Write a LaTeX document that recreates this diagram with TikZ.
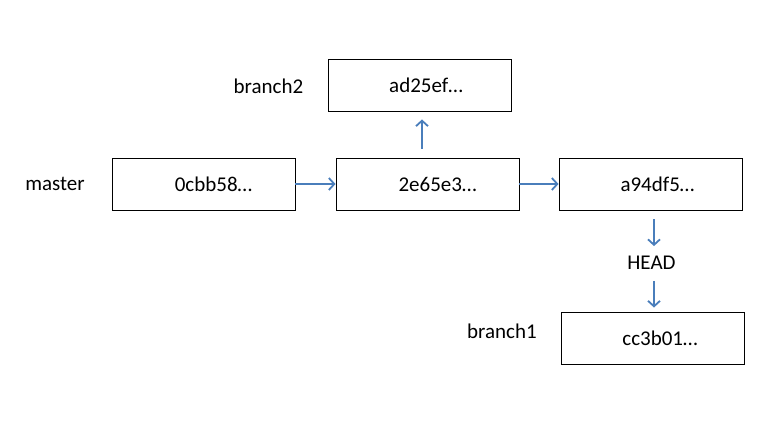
\documentclass[tikz,border=0pt]{standalone}
\usepackage{fontspec}
\setmainfont{Carlito}
\usetikzlibrary{arrows.meta}
\definecolor{arrblue}{HTML}{4A7EBB}
\begin{document}
\begin{tikzpicture}[x=1pt,y=-1pt,
  commit/.style={draw=black, line width=0.9pt, minimum width=183pt, minimum height=52pt, inner sep=0pt, font=\fontsize{21}{25}\selectfont},
  lbl/.style={inner sep=0pt, font=\fontsize{21}{25}\selectfont},
  arr/.style={draw=arrblue, line width=1.8pt, -{Straight Barb[length=5.5pt,width=12pt,line width=1.8pt]}}]
\useasboundingbox (0,0) rectangle (779,433);
\node[commit] (c0) at (203.5,184) {\hspace*{20pt}0cbb58…};
\node[commit] (e2) at (427.5,184) {\hspace*{20pt}2e65e3…};
\node[commit] (ad) at (420,85) {\hspace*{12pt}ad25ef…};
\node[commit] (a9) at (650.5,184) {\hspace*{14pt}a94df5…};
\node[commit] (cc) at (653,338.5) {\hspace*{14pt}cc3b01…};
\node[lbl] (master) at (55,184) {master};
\node[lbl] (b2) at (268.5,86) {branch2};
\node[lbl] (b1) at (502,331) {branch1};
\node[lbl] (head) at (651.5,263) {HEAD};
\draw[arr] (c0.east) -- (e2.west);
\draw[arr] (e2.east) -- (a9.west);
\draw[arr] ([xshift=-5.5pt,yshift=9pt]e2.north) -- ([xshift=2pt,yshift=-8pt]ad.south);
\draw[arr] ([xshift=3.5pt,yshift=-9pt]a9.south) -- ([xshift=2.5pt,yshift=10pt]head.north);
\draw[arr] ([xshift=2.5pt,yshift=-11pt]head.south) -- ([xshift=1pt,yshift=4.5pt]cc.north);
\end{tikzpicture}
\end{document}
